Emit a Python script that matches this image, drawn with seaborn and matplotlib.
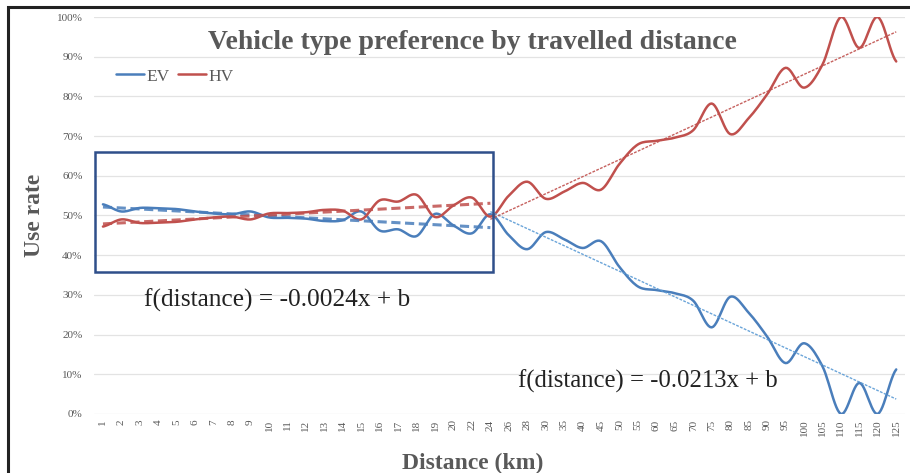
import numpy as np
import pandas as pd
import seaborn as sns
import matplotlib.pyplot as plt
from matplotlib.ticker import PercentFormatter
from matplotlib.patches import Rectangle

sns.set_style('white')
plt.rcParams['font.family'] = ['Liberation Serif', 'DejaVu Serif']

# distance categories (km) as they appear on the axis
distances = ['1', '2', '3', '4', '5', '6', '7', '8', '9', '10', '11', '12', '13', '14',
             '15', '16', '17', '18', '19', '20', '22', '24', '26', '28', '30', '35', '40',
             '45', '50', '55', '60', '65', '70', '75', '80', '85', '90', '95', '100',
             '105', '110', '115', '120', '125']

# use rate (%)
ev = [52.8, 51.0, 51.9, 51.8, 51.6, 51.0, 50.5, 50.3, 51.0, 49.5, 49.4, 49.2, 48.6, 48.8,
      51.0, 46.2, 46.5, 44.8, 50.4, 47.5, 45.5, 50.3, 45.0, 41.5, 45.8, 44.0, 41.8,
      43.5, 37.0, 32.1, 31.2, 30.4, 28.5, 21.8, 29.5, 25.5, 19.5, 12.8, 17.8,
      12.0, 0.0, 7.8, 0.0, 11.2]
hv = [47.2, 49.0, 48.1, 48.2, 48.4, 49.0, 49.5, 49.7, 49.0, 50.5, 50.6, 50.8, 51.4, 51.2,
      49.0, 53.8, 53.5, 55.2, 49.6, 52.5, 54.5, 49.7, 55.0, 58.5, 54.2, 56.0, 58.2,
      56.5, 63.0, 67.9, 68.8, 69.6, 71.5, 78.2, 70.5, 74.5, 80.5, 87.2, 82.2,
      88.0, 100.0, 92.2, 100.0, 88.8]

short_end = 22  # categories 1..24 (the boxed part)

blue = '#4A7EBB'
light_blue = '#5B9BD5'
red = '#C0504D'
grey = '#595959'


def smooth(y, n=12):
    # Catmull-Rom curve through the points, like Excel's smoothed line
    y = np.asarray(y, dtype=float)
    p = np.concatenate([[y[0]], y, [y[-1]]])
    xs, ys = [], []
    for i in range(len(y) - 1):
        p0, p1, p2, p3 = p[i], p[i + 1], p[i + 2], p[i + 3]
        t = np.linspace(0, 1, n, endpoint=False)
        seg = 0.5 * ((2 * p1) + (-p0 + p2) * t + (2 * p0 - 5 * p1 + 4 * p2 - p3) * t ** 2
                     + (-p0 + 3 * p1 - 3 * p2 + p3) * t ** 3)
        xs.append(i + t)
        ys.append(seg)
    xs.append([len(y) - 1])
    ys.append([y[-1]])
    return np.concatenate(xs), np.concatenate(ys)


frames = []
for name, vals in [('EV', ev), ('HV', hv)]:
    sx, sy = smooth(vals)
    frames.append(pd.DataFrame({'pos': sx, 'rate': sy, 'type': name}))
df = pd.concat(frames, ignore_index=True)

fig = plt.figure(figsize=(9.1, 4.73), dpi=100)
ax = fig.add_axes([0.103, 0.125, 0.892, 0.839])

sns.lineplot(data=df, x='pos', y='rate', hue='type', palette={'EV': blue, 'HV': red},
             sort=False, estimator=None, linewidth=1.8, ax=ax)

# trend lines
idx = np.arange(len(distances))
for vals, col, col2 in [(ev, blue, light_blue), (hv, red, red)]:
    xa = idx[:short_end]
    k, b = np.polyfit(xa, np.array(vals[:short_end]), 1)
    sns.lineplot(x=xa, y=k * xa + b, color=col, linewidth=2.2,
                 linestyle=(0, (3, 1.5)), alpha=0.85, ax=ax, legend=False)
    xb = idx[short_end - 1:]
    k, b = np.polyfit(xb, np.array(vals[short_end - 1:]), 1)
    sns.lineplot(x=xb, y=k * xb + b, color=col2, linewidth=1.0,
                 linestyle=(0, (2, 1)), alpha=0.9, ax=ax, legend=False)

ax.add_patch(Rectangle((-0.45, 35.8), 21.6, 30.2, fill=False, edgecolor='#2F4F8A',
                       linewidth=1.8, zorder=5))

ax.set_xlim(-0.5, len(distances) - 0.5)
ax.set_ylim(0, 100)
ax.set_yticks(range(0, 101, 10))
ax.yaxis.set_major_formatter(PercentFormatter(100, decimals=0))
ax.set_xticks(idx)
ax.set_xticklabels(distances, rotation=90, fontsize=8, color=grey)
ax.tick_params(axis='y', labelsize=8, colors=grey, length=0, pad=8)
ax.tick_params(axis='x', length=0, pad=4)
ax.grid(axis='y', color='#E3E3E3', linewidth=0.9)
ax.set_axisbelow(True)
for s in ax.spines.values():
    s.set_visible(False)

ax.set_xlabel('Distance (km)', fontsize=17, fontweight='bold', color=grey, labelpad=0)
ax.xaxis.set_label_coords(0.467, -0.098)
ax.set_ylabel('Use rate', fontsize=17, fontweight='bold', color=grey)
ax.yaxis.set_label_coords(-0.06, 0.5)

fig.text(0.519, 0.91, 'Vehicle type preference by travelled distance', fontsize=20,
         fontweight='bold', color=grey, ha='center', va='center')

ax.text(2.2, 28.7, 'f(distance) = -0.0024x + b', fontsize=18.3, color='#222222', va='center')
ax.text(22.5, 8.2, 'f(distance) = -0.0213x + b', fontsize=17.8, color='#222222', va='center')

leg = ax.legend(loc='upper left', bbox_to_anchor=(0.008, 0.91), ncol=2, frameon=False,
                handlelength=1.6, handletextpad=0.15, columnspacing=0.5, fontsize=12.5,
                labelcolor=grey)
for line in leg.get_lines():
    line.set_linewidth(1.8)

fig.patches.append(Rectangle((0.009, -0.1), 1.2, 1.086, transform=fig.transFigure,
                             fill=False, edgecolor='#222222', linewidth=2.2))

fig.savefig('out.png', dpi=100)
